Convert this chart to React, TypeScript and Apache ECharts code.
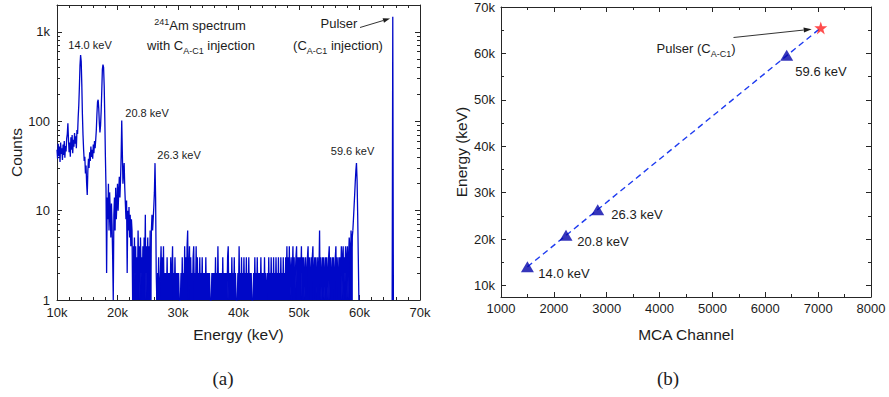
import React, { useEffect, useRef } from "react";
import * as echarts from "echarts";

// ---------- Panel (a): 241Am spectrum (energy in keV, counts) ----------
const SPEC_STEP = 100; // keV between samples
const lowStart = 10000;
const lowCounts = [
  48, 38, 56, 41, 52, 35, 58, 43, 50, 37,
  55, 42, 60, 39, 53, 46, 64, 72, 95, 62,
  45, 58, 40, 66, 48, 70, 44, 62, 52, 74,
  56, 68, 50, 80, 72, 110, 150, 240, 420, 550,
  470, 260, 120, 70, 48, 36, 40, 26, 32, 20,
  15, 28, 38, 30, 45, 36, 52, 40, 48, 38,
  55, 44, 60, 50, 62, 80, 120, 165, 174, 140,
  95, 75, 90, 130, 220, 380, 430, 400, 250, 110,
  40, 18, 2, 14, 8, 20, 6, 16, 10, 5,
  12, 7, 3, 1, 9, 14, 6, 18, 8, 12,
  20, 10, 16, 24, 14, 22, 40, 102, 45, 20,
  28, 34, 18, 12, 8, 13, 2, 10, 6, 11,
  5, 9, 4, 8, 6,
];
const midStart = 22500;
const midCounts = [
  1, 4, 1, 5, 2, 4, 1, 3, 1, 6,
  2, 4, 1, 5, 2, 3, 1, 4, 1, 5,
  2, 9, 1, 4, 2, 5, 1, 4, 2, 6,
  1, 6, 9, 6, 8, 11, 16, 34, 14, 2,
  1, 2, 1, 3, 1,
];
const flatStart = 27000;
const flatCounts = [
  1, 2, 4, 1, 3, 1, 4, 1, 2, 1,
  2, 1, 3, 1, 2, 1, 2, 1, 3, 1,
  2, 4, 1, 2, 1, 3, 1, 2, 1, 2,
  1, 2, 1, 1, 1, 2, 1, 3, 1, 2,
  1, 4, 1, 3, 1, 4, 6, 1, 2, 4,
  1, 3, 1, 2, 1, 3, 4, 1, 2, 1,
  4, 1, 3, 1, 2, 1, 3, 1, 2, 1,
  3, 1, 2, 1, 2, 1, 3, 1, 2, 1,
  2, 1, 2, 1, 1, 1, 2, 1, 2, 1,
  2, 1, 3, 1, 2, 1, 4, 1, 2, 1,
  2, 1, 2, 1, 3, 1, 2, 1, 2, 1,
  2, 1, 3, 4, 1, 2, 1, 2, 1, 3,
  1, 2, 1, 3, 1, 2, 1, 1, 1, 2,
  1, 4, 1, 2, 1, 3, 1, 2, 1, 3,
  1, 2, 1, 3, 1, 2, 1, 3, 1, 2,
  1, 2, 1, 1, 1, 2, 1, 3, 1, 2,
  1, 3, 1, 2, 1, 2, 1, 3, 1, 2,
  1, 2, 1, 3, 1, 2, 1, 1, 2, 1,
  3, 1, 2, 1, 3, 1, 2, 1, 3, 1,
  2, 1, 3, 1, 2, 1, 3, 1, 2, 1,
  3, 1, 2, 1, 3, 1, 2, 1, 3, 1,
  4, 1, 3, 1, 4, 1, 2, 3, 1, 2,
  4, 1, 3, 1, 2, 3, 4, 1, 3, 1,
  3, 1, 3, 2, 4, 1, 3, 1, 3, 2,
  1, 3, 1, 2, 3, 4, 1, 3, 2, 1,
  3, 1, 3, 4, 1, 2, 3, 1, 3, 2,
  1, 3, 1, 2, 6, 1, 3, 2, 1, 3,
  1, 3, 2, 1, 3, 1, 3, 2, 1, 3,
  4, 1, 3, 2, 1, 3, 1, 3, 2, 1,
  3, 4, 1, 3, 2, 1, 3, 1, 3, 2,
  4, 1, 3, 4, 1, 3, 2, 4, 1, 3,
  4, 1, 3, 5, 4, 1, 6, 4, 5, 6,
];
const peak59Start = 59000;
const peak59Counts = [8, 11, 15, 21, 28, 34, 22, 9, 3, 1];
const gapEnergy = 60000;
const pulserStart = 65400;
const pulserCounts = [1, 1480, 1];
// index (within midCounts) where the 26.3 keV peak region begins / ends
const peak26From = 30;
const peak26To = 40;

const countMajorTicks = [1, 10, 100, 1000];
const countMinorTicks = [
  2, 3, 4, 5, 6, 7, 8, 9,
  20, 30, 40, 50, 60, 70, 80, 90,
  200, 300, 400, 500, 600, 700, 800, 900,
];

// ---------- Panel (b): calibration ----------
const peakNames = ["14.0 keV", "20.8 keV", "26.3 keV", "59.6 keV"];
const peakChannels = [1500, 2230, 2830, 6405];
const peakEnergies = [14000, 20800, 26300, 59600];
const pulserChannel = [7050];
const pulserEnergy = [65500];
const fitChannels = [1500, 7050];
const fitEnergies = [14000, 65500];
const energyMajorTicksB = [10000, 20000, 30000, 40000, 50000, 60000, 70000];
const energyMinorTicksB = [15000, 25000, 35000, 45000, 55000, 65000];

const FONT = "'Liberation Sans', Arial, Helvetica, sans-serif";
const INK = "#1c1c1c";
const AXIS = "#262626";
const SPEC_BLUE = "#0008c8";
const TRI_BLUE = "#0404aa";
const FIT_BLUE = "#1f3cf0";
const STAR =
  "path://M50,0 L61.2,34.5 L97.6,34.5 L68.2,55.9 L79.4,90.5 L50,69.1 L20.6,90.5 L31.8,55.9 L2.4,34.5 L38.8,34.5 Z";

const kFmt = (v: number) => (v >= 1000 ? v / 1000 + "k" : String(v));
const plainFmt = (v: number) => String(v);

const toPts = (start: number, arr: number[]) => arr.map((c, i) => [start + i * SPEC_STEP, c] as any[]);

function spectrumPieces() {
  const low = toPts(lowStart, lowCounts);
  const mid = toPts(midStart, midCounts);
  const flat = toPts(flatStart, flatCounts);
  const p59 = toPts(peak59Start, peak59Counts);
  const puls = toPts(pulserStart, pulserCounts);
  return {
    plain: [
      [...low, mid[0]],
      mid.slice(peak26From, peak26To + 1),
      [flat[flat.length - 1], ...p59, [gapEnergy, "-"], ...puls],
    ],
    dense: [
      mid.slice(0, peak26From + 1),
      [...mid.slice(peak26To), ...flat],
    ],
  };
}

const tickLine = { color: AXIS, width: 1 };

function valueX(gridIndex: number, min: number, max: number, interval: number, minorSplit: number, top: boolean, extra: any) {
  return {
    type: "value",
    gridIndex,
    position: top ? "top" : "bottom",
    min,
    max,
    interval,
    axisLine: { show: true, onZero: false, lineStyle: tickLine },
    axisTick: { show: true, inside: true, length: 5, lineStyle: tickLine },
    minorTick: { show: true, splitNumber: minorSplit, length: 3, lineStyle: tickLine },
    splitLine: { show: false },
    minorSplitLine: { show: false },
    axisLabel: { show: false },
    ...extra,
  };
}

function customY(
  gridIndex: number,
  type: string,
  min: number,
  max: number,
  ticks: number[],
  len: number,
  right: boolean,
  showLine: boolean,
  labels: any,
  extra: any
) {
  return {
    type,
    gridIndex,
    position: right ? "right" : "left",
    min,
    max,
    ...(type === "log" ? { logBase: 10 } : {}),
    axisLine: { show: showLine, onZero: false, lineStyle: tickLine },
    axisTick: { show: true, inside: true, length: len, customValues: ticks, lineStyle: tickLine },
    splitLine: { show: false },
    axisLabel: labels
      ? { show: true, customValues: ticks, formatter: kFmt, color: INK, fontSize: 13, fontFamily: FONT, margin: labels.margin }
      : { show: false },
    ...extra,
  };
}

function txt(x: number, y: number, text: string, fontSize: number, rich?: any) {
  const style: any = {
    text,
    x: 0,
    y: 0,
    fill: INK,
    fontSize,
    fontFamily: FONT,
    align: "center",
    verticalAlign: "middle",
  };
  if (rich) style.rich = rich;
  return { type: "text", x, y, silent: true, style };
}

const richSup = {
  n: { fontSize: 13, fontFamily: FONT, fill: INK, color: INK, lineHeight: 16 },
  sup: { fontSize: 9, fontFamily: FONT, fill: INK, color: INK, lineHeight: 16, verticalAlign: "top" },
};
const richSub = {
  n: { fontSize: 13, fontFamily: FONT, fill: INK, color: INK, lineHeight: 20 },
  sub: { fontSize: 9, fontFamily: FONT, fill: INK, color: INK, lineHeight: 20, verticalAlign: "bottom" },
};

function arrow(x1: number, y1: number, x2: number, y2: number, len: number, half: number) {
  const dx = x2 - x1;
  const dy = y2 - y1;
  const d = Math.sqrt(dx * dx + dy * dy);
  const ux = dx / d;
  const uy = dy / d;
  const bx = x2 - ux * len;
  const by = y2 - uy * len;
  return [
    { type: "line", silent: true, shape: { x1, y1, x2: bx, y2: by }, style: { stroke: INK, lineWidth: 0.9 } },
    {
      type: "polygon",
      silent: true,
      shape: { points: [[x2, y2], [bx - uy * half, by + ux * half], [bx + uy * half, by - ux * half]] },
      style: { fill: INK },
    },
  ];
}

export default function App() {
  const ref = useRef<HTMLDivElement>(null);
  useEffect(() => {
    if (!ref.current) return;
    const chart = echarts.init(ref.current, null, { renderer: "svg" });
    const nameStyle = { color: INK, fontSize: 15.5, fontFamily: FONT };
    const labelStyle = { show: true, color: INK, fontSize: 13, fontFamily: FONT, margin: 6 };
    const pieces = spectrumPieces();
    const specSeries = (data: any[], area: boolean) => ({
      type: "line",
      xAxisIndex: 0,
      yAxisIndex: 0,
      data,
      showSymbol: false,
      symbol: "none",
      connectNulls: false,
      lineStyle: { color: SPEC_BLUE, width: 1.3 },
      ...(area ? { areaStyle: { color: SPEC_BLUE, opacity: 1, origin: "start" } } : {}),
      silent: true,
    });
    const option: any = {
      animation: false,
      textStyle: { fontFamily: FONT },
      grid: [
        { left: 57, top: 5, width: 363, height: 295 },
        { left: 501, top: 7, width: 370, height: 290 },
      ],
      xAxis: [
        valueX(0, 10000, 70000, 10000, 5, false, {
          axisLabel: { ...labelStyle, formatter: kFmt },
          name: "Energy (keV)",
          nameLocation: "middle",
          nameGap: 26,
          nameTextStyle: nameStyle,
        }),
        valueX(0, 10000, 70000, 10000, 5, true, {}),
        valueX(1, 1000, 8000, 1000, 2, false, {
          axisLabel: { ...labelStyle, margin: 5, formatter: plainFmt },
          name: "MCA Channel",
          nameLocation: "middle",
          nameGap: 29,
          nameTextStyle: nameStyle,
        }),
        valueX(1, 1000, 8000, 1000, 2, true, {}),
      ],
      yAxis: [
        customY(0, "log", 1, 2000, countMajorTicks, 5, false, true, { margin: 7 }, {
          name: "Counts",
          nameLocation: "middle",
          nameGap: 30,
          nameTextStyle: nameStyle,
        }),
        customY(0, "log", 1, 2000, countMinorTicks, 3, false, false, null, {}),
        customY(0, "log", 1, 2000, countMajorTicks, 5, true, true, null, {}),
        customY(0, "log", 1, 2000, countMinorTicks, 3, true, false, null, {}),
        customY(1, "value", 7500, 70000, energyMajorTicksB, 5, false, true, { margin: 6 }, {
          name: "Energy (keV)",
          nameLocation: "middle",
          nameGap: 32,
          nameTextStyle: nameStyle,
        }),
        customY(1, "value", 7500, 70000, energyMinorTicksB, 3, false, false, null, {}),
        customY(1, "value", 7500, 70000, energyMajorTicksB, 5, true, true, null, {}),
        customY(1, "value", 7500, 70000, energyMinorTicksB, 3, true, false, null, {}),
      ],
      series: [
        ...pieces.plain.map((d) => specSeries(d, false)),
        ...pieces.dense.map((d) => specSeries(d, true)),
        {
          type: "line",
          xAxisIndex: 2,
          yAxisIndex: 4,
          data: fitChannels.map((c, i) => [c, fitEnergies[i]]),
          showSymbol: false,
          symbol: "none",
          lineStyle: { color: FIT_BLUE, width: 1.4, type: [6, 4] },
          silent: true,
          z: 2,
        },
        {
          type: "scatter",
          xAxisIndex: 2,
          yAxisIndex: 4,
          data: peakChannels.map((c, i) => ({ value: [c, peakEnergies[i]], name: peakNames[i] })),
          symbol: "triangle",
          symbolSize: [13, 11],
          itemStyle: { color: TRI_BLUE },
          silent: true,
          z: 3,
        },
        {
          type: "scatter",
          xAxisIndex: 2,
          yAxisIndex: 4,
          data: pulserChannel.map((c, i) => [c, pulserEnergy[i]]),
          symbol: STAR,
          symbolSize: 13,
          itemStyle: { color: "#ff1f1f" },
          silent: true,
          z: 4,
        },
      ],
      graphic: [
        // panel (a)
        txt(200, 25, "{sup|241}{n|Am spectrum}", 13, richSup),
        txt(201, 45, "{n|with C}{sub|A-C1}{n| injection}", 13, richSub),
        txt(339, 23, "Pulser", 13),
        txt(338, 45, "{n|(C}{sub|A-C1}{n| injection)}", 13, richSub),
        ...arrow(360, 27.5, 390, 18.5, 7, 2.4),
        txt(90, 45, "14.0 keV", 11),
        txt(147, 113, "20.8 keV", 11),
        txt(179, 155, "26.3 keV", 11),
        txt(352.5, 151, "59.6 keV", 11),
        // panel (b)
        txt(696, 48, "{n|Pulser (C}{sub|A-C1}{n|)}", 13, richSub),
        ...arrow(733.5, 37.5, 811.7, 29.2, 8, 2.5),
        txt(821, 71, "59.6 keV", 13),
        txt(637, 214, "26.3 keV", 13),
        txt(603, 241, "20.8 keV", 13),
        txt(564, 273, "14.0 keV", 13),
        // captions
        {
          type: "text",
          x: 223,
          y: 378,
          silent: true,
          style: { text: "(a)", fill: INK, fontSize: 19, fontFamily: "'Liberation Serif', 'DejaVu Serif', serif", align: "center", verticalAlign: "middle" },
        },
        {
          type: "text",
          x: 668,
          y: 378,
          silent: true,
          style: { text: "(b)", fill: INK, fontSize: 19, fontFamily: "'Liberation Serif', 'DejaVu Serif', serif", align: "center", verticalAlign: "middle" },
        },
      ],
    };
    chart.setOption(option);
    return () => chart.dispose();
  }, []);
  return (
    <div
      ref={ref}
      style={{ position: "fixed", left: 0, top: 0, width: 889, height: 397, background: "#fff" }}
    />
  );
}
